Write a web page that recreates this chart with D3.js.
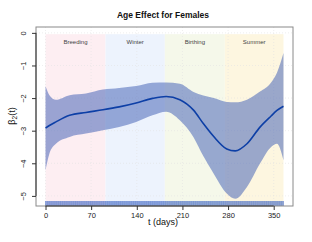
<!DOCTYPE html>
<html>
<head>
<meta charset="utf-8">
<script src="https://cdn.jsdelivr.net/npm/d3@7"></script>
<style>
  body { margin: 0; background: #ffffff; }
  text { font-family: "Liberation Sans", Arial, sans-serif; }
</style>
</head>
<body>
<svg id="chart" width="312" height="242"></svg>
<script>
// chart values
const days  = [0, 6, 16, 37, 62, 88, 113, 139, 164, 185, 206, 227, 242, 258, 278, 291, 309, 329, 346, 355, 365];
const meanV = [-2.92, -2.84, -2.73, -2.53, -2.44, -2.36, -2.27, -2.15, -2.01, -1.95, -2.05, -2.37, -2.78, -3.18, -3.56, -3.62, -3.40, -2.89, -2.55, -2.38, -2.25];
const upperV = [-1.64, -1.91, -2.05, -1.91, -1.86, -1.74, -1.69, -1.63, -1.53, -1.52, -1.56, -1.81, -1.92, -2.00, -2.12, -2.13, -2.05, -1.80, -1.52, -1.22, -0.62];
const lowerV = [-4.22, -3.70, -3.40, -3.19, -3.09, -2.99, -2.89, -2.73, -2.53, -2.42, -2.68, -3.20, -3.78, -4.32, -4.93, -5.09, -4.73, -4.01, -3.50, -3.40, -3.91];

const seasons = ["Breeding", "Winter", "Birthing", "Summer"];
const seasonStart = [0, 92, 183, 275];
const seasonEnd = [92, 183, 275, 365];
const seasonColors = ["#fdeef2", "#edf3fd", "#f5f8ea", "#fdf6e0"];

const xTicks = [0, 70, 140, 210, 280, 350];
const yTicks = [0, -1, -2, -3, -4, -5];

// observation days for the rug
const rugDays = [0,1,2,3,4,5,6,7,8,9,10,11,12,13,14,15,16,17,18,19,20,21,22,23,24,25,26,27,28,29,30,31,32,33,34,35,36,37,38,39,40,41,42,43,44,45,46,47,48,49,50,51,52,53,54,55,56,57,58,59,60,61,62,63,64,65,66,67,68,69,70,71,72,73,74,75,76,77,78,79,80,81,82,83,84,85,86,87,88,89,90,91,92,93,94,95,96,97,98,99,100,101,102,103,104,105,106,107,108,109,110,111,112,113,114,115,116,117,118,119,120,121,122,123,124,125,126,127,128,129,130,131,132,133,134,135,136,137,138,139,140,141,142,143,144,145,146,147,148,149,150,151,152,153,154,155,156,157,158,159,160,161,162,163,164,165,166,167,168,169,170,171,172,173,174,175,176,177,178,179,180,181,182,183,184,185,186,187,188,189,190,191,192,193,194,195,196,197,198,199,200,201,202,203,204,205,206,207,208,209,210,211,212,213,214,215,216,217,218,219,220,221,222,223,224,225,226,227,228,229,230,231,232,233,234,235,236,237,238,239,240,241,242,243,244,245,246,247,248,249,250,251,252,253,254,255,256,257,258,259,260,261,262,263,264,265,266,267,268,269,270,271,272,273,274,275,276,277,278,279,280,281,282,283,284,285,286,287,288,289,290,291,292,293,294,295,296,297,298,299,300,301,302,303,304,305,306,307,308,309,310,311,312,313,314,315,316,317,318,319,320,321,322,323,324,325,326,327,328,329,330,331,332,333,334,335,336,337,338,339,340,341,342,343,344,345,346,347,348,349,350,351,352,353,354,355,356,357,358,359,360,361,362,363,364,365];

// plot box
const boxLeft = 36, boxRight = 293, boxTop = 27, boxBottom = 206;

const svg = d3.select("#chart");

const xScale = d3.scaleLinear()
                .domain([-14.6, 379.6])
                .range([boxLeft, boxRight]);

const yScale = d3.scaleLinear()
                .domain([-5.31, 0.18])
                .range([boxBottom, boxTop]);

const data = days.map((d, i) => ({day: d, mean: meanV[i], upper: upperV[i], lower: lowerV[i]}));

// season backgrounds
svg.selectAll("rect.season")
    .data(seasons)
    .join("rect")
    .attr("class", "season")
    .attr("x", (d, i) => xScale(seasonStart[i]))
    .attr("y", yScale(-0.04))
    .attr("width", (d, i) => xScale(seasonEnd[i]) - xScale(seasonStart[i]))
    .attr("height", yScale(-5.31) - yScale(-0.04))
    .attr("fill", (d, i) => seasonColors[i]);

// dotted grid
svg.append("g")
    .selectAll("line")
    .data(yTicks)
    .join("line")
    .attr("x1", boxLeft).attr("x2", boxRight)
    .attr("y1", d => yScale(d)).attr("y2", d => yScale(d))
    .attr("stroke", "#e2e2e2")
    .attr("stroke-width", 0.6)
    .attr("stroke-dasharray", "1,2");

svg.append("g")
    .selectAll("line")
    .data(xTicks)
    .join("line")
    .attr("x1", d => xScale(d)).attr("x2", d => xScale(d))
    .attr("y1", boxTop).attr("y2", boxBottom)
    .attr("stroke", "#e2e2e2")
    .attr("stroke-width", 0.6)
    .attr("stroke-dasharray", "1,2");

// season labels
svg.selectAll("text.season")
    .data(seasons)
    .join("text")
    .attr("class", "season")
    .attr("x", (d, i) => (xScale(seasonStart[i]) + xScale(seasonEnd[i])) / 2)
    .attr("y", 43.5)
    .attr("text-anchor", "middle")
    .attr("font-size", "6px")
    .attr("fill", "#444")
    .text(d => d);

// confidence band
const band = d3.area()
                .x(d => xScale(d.day))
                .y0(d => yScale(d.lower))
                .y1(d => yScale(d.upper))
                .curve(d3.curveMonotoneX);

svg.append("path")
    .datum(data)
    .attr("d", band)
    .attr("fill", "rgb(73,102,184)")
    .attr("fill-opacity", 0.55);

// mean curve
const line = d3.line()
                .x(d => xScale(d.day))
                .y(d => yScale(d.mean))
                .curve(d3.curveMonotoneX);

svg.append("path")
    .datum(data)
    .attr("d", line)
    .attr("fill", "none")
    .attr("stroke", "#0d3fa6")
    .attr("stroke-width", 1.6);

// rug
svg.append("g")
    .selectAll("line")
    .data(rugDays)
    .join("line")
    .attr("x1", d => xScale(d)).attr("x2", d => xScale(d))
    .attr("y1", 201).attr("y2", boxBottom)
    .attr("stroke", "#3f66c4")
    .attr("stroke-width", 0.5);

// box
svg.append("rect")
    .attr("x", boxLeft).attr("y", boxTop)
    .attr("width", boxRight - boxLeft).attr("height", boxBottom - boxTop)
    .attr("fill", "none")
    .attr("stroke", "#8a8a8a")
    .attr("stroke-width", 1);

// axes
const bottomAxis = d3.axisBottom(xScale).tickValues(xTicks).tickSize(4).tickPadding(3);
const leftAxis = d3.axisLeft(yScale).tickValues(yTicks).tickSize(4).tickPadding(3)
                    .tickFormat(d => d === 0 ? "0" : "\u2212" + Math.abs(d));

const gx = svg.append("g")
    .attr("transform", "translate(0," + boxBottom + ")")
    .call(bottomAxis);
gx.select(".domain").attr("d", "M" + xScale(0) + ",0H" + xScale(350)).attr("stroke", "#333");
gx.selectAll(".tick line").attr("stroke", "#333");
gx.selectAll(".tick text").attr("font-size", "7.5px").attr("font-family", "Liberation Sans, Arial, sans-serif").attr("fill", "#222");

const gy = svg.append("g")
    .attr("transform", "translate(" + boxLeft + ",0)")
    .call(leftAxis);
gy.select(".domain").attr("d", "M0," + yScale(0) + "V" + yScale(-5)).attr("stroke", "#333");
gy.selectAll(".tick line").attr("stroke", "#333");
gy.selectAll(".tick text")
    .attr("font-size", "7.5px")
    .attr("font-family", "Liberation Sans, Arial, sans-serif")
    .attr("fill", "#222")
    .attr("x", null).attr("dy", null)
    .attr("text-anchor", "middle")
    .attr("transform", "translate(-10,0) rotate(-90)");

// titles
svg.append("text")
    .attr("x", 163)
    .attr("y", 18)
    .attr("text-anchor", "middle")
    .attr("font-size", "8.5px")
    .attr("font-weight", "bold")
    .attr("fill", "#111")
    .text("Age Effect for Females");

svg.append("text")
    .attr("x", 163)
    .attr("y", 225)
    .attr("text-anchor", "middle")
    .attr("font-size", "9px")
    .attr("fill", "#111")
    .text("t (days)");

const ylab = svg.append("text")
    .attr("transform", "translate(15,116) rotate(-90)")
    .attr("text-anchor", "middle")
    .attr("font-size", "9px")
    .attr("fill", "#111");
ylab.append("tspan").text("\u03b2");
ylab.append("tspan").attr("font-size", "6.5px").attr("dy", 2).text("2");
ylab.append("tspan").attr("dy", -2).text("(t)");
</script>
</body>
</html>
